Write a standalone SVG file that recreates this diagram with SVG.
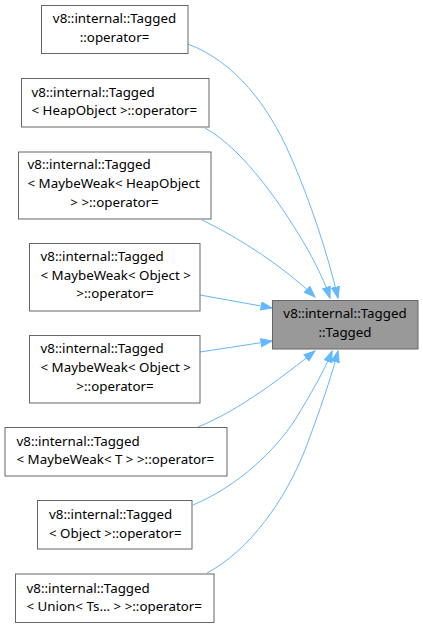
<svg xmlns="http://www.w3.org/2000/svg" width="423" height="629" viewBox="0 0 423 629">
<style>
.n rect{fill:#ffffff;stroke:#666666;stroke-width:1}
.t rect{fill:#999999;stroke:#666666;stroke-width:1}
text{font-family:"Noto Sans","DejaVu Sans",sans-serif;font-size:13.33px;fill:#000000}
.c{text-anchor:middle}
.e path{fill:none;stroke:#63b8ff;stroke-width:1}
</style>
<defs>
<marker id="ah" markerUnits="userSpaceOnUse" markerWidth="13" markerHeight="10" refX="11.5" refY="4.5" orient="auto">
<path d="M0.5,0.5 L11.5,4.5 L0.5,8.5 z" fill="#63b8ff" stroke="#63b8ff" stroke-width="1"/>
</marker>
</defs>
<rect width="423" height="629" fill="#ffffff"/>
<g class="e" id="edges">
<path d="M188,44 C235,62 268,105 290,155 C310,200 328,255 338,298" marker-end="url(#ah)"/>
<path d="M205,128 C245,150 285,210 308,250 C318,268 325,283 330,298" marker-end="url(#ah)"/>
<path d="M202,220 C240,238 285,268 315,297" marker-end="url(#ah)"/>
<path d="M200,295 L272,308" marker-end="url(#ah)"/>
<path d="M200,352 L272,341" marker-end="url(#ah)"/>
<path d="M198,427 C240,410 285,375 315,351" marker-end="url(#ah)"/>
<path d="M193,505 C240,485 275,450 295,420 C310,395 325,370 332,351" marker-end="url(#ah)"/>
<path d="M207,573 C250,550 285,500 305,450 C320,410 332,375 338,351" marker-end="url(#ah)"/>
</g>
<g class="t" id="target">
<rect x="272.5" y="300.5" width="145.5" height="48.5"/>
<text class="c" x="345" y="318">v8::internal::Tagged</text>
<text class="c" x="345" y="337">::Tagged</text>
</g>
<g class="n" id="n1">
<rect x="41.5" y="5.5" width="146.5" height="48"/>
<text class="c" x="114.5" y="23.3">v8::internal::Tagged</text>
<text class="c" x="114.5" y="42">::operator=</text>
</g>
<g class="n" id="n2">
<rect x="21.5" y="78.5" width="187.5" height="48.5"/>
<text x="31.5" y="96.7">v8::internal::Tagged</text>
<text x="31.5" y="115.2">&lt; HeapObject &gt;::operator=</text>
</g>
<g class="n" id="n3">
<rect x="18.5" y="152" width="192.5" height="67"/>
<text x="27.5" y="169.3">v8::internal::Tagged</text>
<text x="27.5" y="188">&lt; MaybeWeak&lt; HeapObject</text>
<text class="c" x="114.5" y="206.5">&gt; &gt;::operator=</text>
</g>
<g class="n" id="n4">
<rect x="29.5" y="243.5" width="170.5" height="67.5"/>
<text x="40.5" y="261">v8::internal::Tagged</text>
<text x="40.5" y="280">&lt; MaybeWeak&lt; Object &gt;</text>
<text class="c" x="115" y="298.4">&gt;::operator=</text>
</g>
<g class="n" id="n5">
<rect x="29.5" y="335.5" width="170.5" height="67.5"/>
<text x="40.5" y="353.3">v8::internal::Tagged</text>
<text x="40.5" y="372">&lt; MaybeWeak&lt; Object &gt;</text>
<text class="c" x="115" y="390.6">&gt;::operator=</text>
</g>
<g class="n" id="n6">
<rect x="5" y="427.5" width="222" height="48.5"/>
<text x="16.5" y="445.8">v8::internal::Tagged</text>
<text x="16.5" y="464.4">&lt; MaybeWeak&lt; T &gt; &gt;::operator=</text>
</g>
<g class="n" id="n7">
<rect x="37.5" y="500.5" width="154.5" height="48.5"/>
<text x="49" y="519">v8::internal::Tagged</text>
<text x="49" y="537.7">&lt; Object &gt;::operator=</text>
</g>
<g class="n" id="n8">
<rect x="15.5" y="574" width="198.5" height="48.5"/>
<text x="26.5" y="592.7">v8::internal::Tagged</text>
<text x="26.5" y="611.3">&lt; Union&lt; Ts... &gt; &gt;::operator=</text>
</g>
</svg>
